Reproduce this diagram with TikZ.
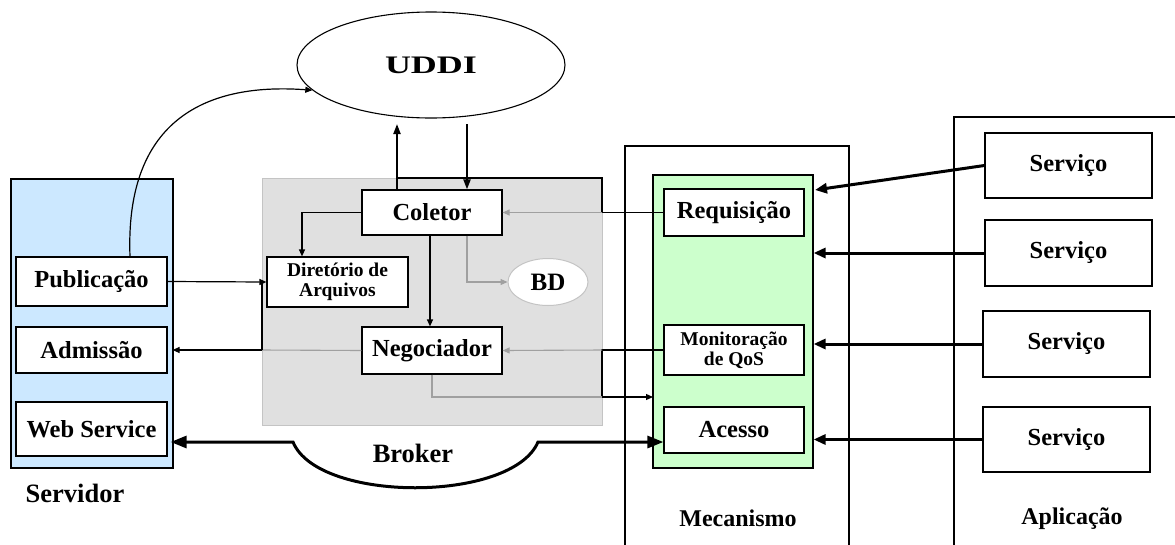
\documentclass[tikz,border=0pt]{standalone}
\usepackage{fontspec}
\usepackage{graphicx}
\setmainfont{Liberation Serif}
\usetikzlibrary{arrows.meta,shapes.geometric}
\definecolor{srvblue}{HTML}{CCE8FF}
\definecolor{mecgreen}{HTML}{CCFFCC}
\definecolor{brkgray}{HTML}{E0E0E0}
\definecolor{brkborder}{HTML}{C4C4C4}
\definecolor{ghost}{HTML}{A0A0A0}
\begin{document}
\begin{tikzpicture}[x=1pt,y=-1pt,
  box/.style={draw, fill=white, line width=1.2pt, inner sep=0pt, align=center,
    font=\bfseries\fontsize{24.5}{26}\selectfont},
  smallbox/.style={box, font=\bfseries\fontsize{19.5}{20}\selectfont},
  lbl/.style={inner sep=0pt, font=\bfseries\fontsize{26.5}{28}\selectfont},
  conn/.style={line width=1.2pt, -{Triangle[length=7pt,width=6pt]}},
  plain/.style={line width=1.2pt},
  ghostline/.style={line width=1.1pt, draw=ghost},
  heavy/.style={line width=2pt, -{Triangle[length=10pt,width=7pt]}},
  thick3/.style={line width=3pt, -{Triangle[length=12pt,width=10pt]}}
]
\useasboundingbox (0,0) rectangle (1175,544);

% --- containers ---
\draw[line width=1.2pt, fill=srvblue] (11,179) rectangle (173,468);
\fill[brkgray] (262,178) rectangle (602,425);
\draw[brkborder, line width=1pt] (262,178) rectangle (602,425);
\draw[line width=1.2pt] (625,546) -- (625,146) -- (849,146) -- (849,546);
\node[draw, line width=1.2pt, fill=mecgreen, minimum width=160, minimum height=293, inner sep=0pt] (mecg) at (733,321.5) {};
\draw[line width=1.2pt] (954,546) -- (954,117) -- (1176,117);

% --- nodes ---
\node[draw, line width=1.1pt, ellipse, minimum width=268, minimum height=106, inner sep=0pt] (uddi) at (431,65)
  {\bfseries\fontsize{24}{26}\selectfont\scalebox{1.5}[1.05]{UDDI}};

\node[box, minimum width=151, minimum height=49] (pub) at (91.5,281.5) {Publicação};
\node[box, minimum width=151, minimum height=46] (adm) at (91.5,350) {Admissão};
\node[box, minimum width=151, minimum height=54] (ws) at (91.5,429) {Web Service};
\node[lbl] (srvlbl) at (75,493) {Servidor};

\node[box, minimum width=140, minimum height=45] (col) at (432,212.5) {Coletor};
\node[smallbox, minimum width=141, minimum height=50] (dir) at (337.5,282) {Diretório de\\Arquivos};
\node[draw=brkborder, fill=white, line width=1pt, ellipse, minimum width=80, minimum height=47, inner sep=0pt,
  font=\bfseries\fontsize{25}{27}\selectfont] (bd) at (548,282) {BD};
\node[box, minimum width=140, minimum height=47] (neg) at (432,350.5) {Negociador};
\node[lbl] (brklbl) at (413,453) {Broker};

\node[box, minimum width=140, minimum height=47] (req) at (734,212.5) {Requisição};
\node[smallbox, minimum width=140, minimum height=50] (mon) at (734,350) {Monitoração\\de QoS};
\node[box, minimum width=140, minimum height=46] (acc) at (734,430) {Acesso};
\node[lbl, font=\bfseries\fontsize{24}{26}\selectfont] (meclbl) at (738,518) {Mecanismo};

\node[box, minimum width=167, minimum height=65] (s1) at (1068.5,165.5) {Serviço};
\node[box, minimum width=167, minimum height=66] (s2) at (1068.5,253) {Serviço};
\node[box, minimum width=167, minimum height=66] (s3) at (1066.5,344) {Serviço};
\node[box, minimum width=167, minimum height=65] (s4) at (1066.5,439.5) {Serviço};
\node[lbl, font=\bfseries\fontsize{24}{26}\selectfont] (aplbl) at (1072,519) {Aplicação};

% --- helper coordinates ---
\coordinate (jreq) at (602,212.5);
\coordinate (jtop) at (602,178);
\coordinate (ctop) at (397,178);
\coordinate (uup) at (397,124);
\coordinate (udn) at (467,124);
\coordinate (jmon) at (602,350);
\coordinate (jacc) at (602,397);
\coordinate (nbot) at (432,397);
\coordinate (jadm) at (262,350);
\coordinate (jdir) at (262,282);
\coordinate (gin) at (653,397);
\coordinate (b1) at (293,442);
\coordinate (b2) at (538,442);
\coordinate (m1) at (815,190);

% --- connectors ---
% Publicacao -> UDDI
\draw[conn, line width=1.2pt] ([xshift=38.5pt]pub.north) .. controls (125,125) and (200,82) .. (uddi.192);
% Coletor <-> UDDI
\draw[heavy] ([xshift=-35pt]col.north) -- (uup);
\draw[heavy] (udn) -- ([xshift=35pt]col.north);
% Requisicao -> Coletor (and border path)
\draw[plain] (req.west) -- (jreq) -- (jtop) -- (ctop);
\draw[ghostline, -{Triangle[length=7pt,width=6pt]}] (jreq) -- (col.east);
% Coletor -> Diretorio / Negociador / BD
\draw[conn] (col.west) -| ([xshift=-35.5pt]dir.north);
\draw[conn] ([xshift=-2pt]col.south) -- ([xshift=-2pt]neg.north);
\draw[ghostline, -{Triangle[length=7pt,width=6pt]}] ([xshift=35pt]col.south) |- (bd.west);
% Publicacao -> Diretorio
\draw[conn] (pub.east) -- (dir.west);
% Negociador -> Admissao
\draw[ghostline] (neg.west) -- (jadm);
\draw[plain] (jdir) -- (jadm);
\draw[conn] (jadm) -- ([xshift=5pt]adm.east);
% Monitoracao -> Negociador
\draw[plain] (mon.west) -- (jmon) -- (jacc);
\draw[ghostline, -{Triangle[length=7pt,width=6pt]}] (jmon) -- (neg.east);
% Negociador -> mecanismo
\draw[ghostline] (neg.south) -- (nbot) -- (jacc);
\draw[conn] (jacc) -- (gin);
% Web Service <-> Acesso
\draw[line width=3pt, {Triangle[length=16pt,width=12pt]}-{Triangle[length=16pt,width=12pt]}]
  ([yshift=-13pt,xshift=3pt]ws.east) -- (b1) .. controls (318,503) and (512,503) .. (b2) -- ([yshift=-12pt]acc.west);
% Servico -> mecanismo
\draw[thick3] (s1.west) -- (m1);
\draw[thick3] (s2.west) -- (s2.west -| mecg.east);
\draw[thick3] (s3.west) -- (s3.west -| mecg.east);
\draw[thick3] (s4.west) -- (s4.west -| mecg.east);
\end{tikzpicture}
\end{document}
